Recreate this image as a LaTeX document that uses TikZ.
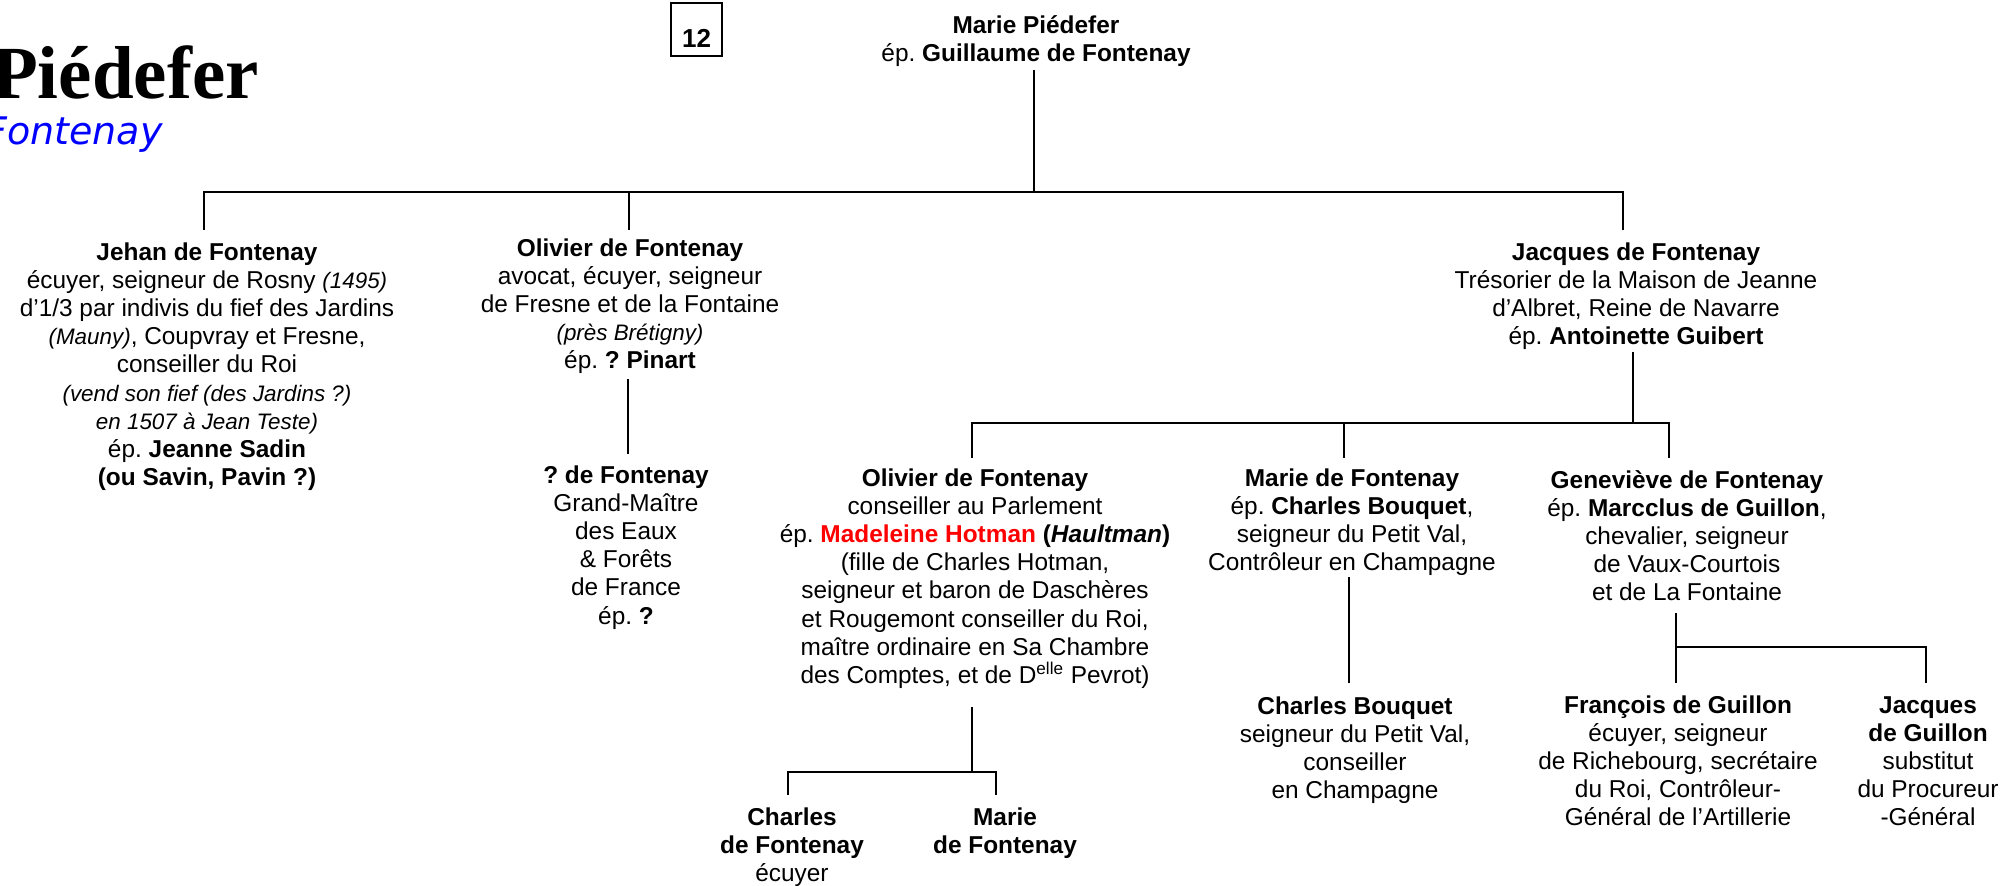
\documentclass[tikz,border=0pt]{standalone}
\usepackage{fontspec}
\setmainfont{Liberation Sans}
\newfontfamily\titleserif{Liberation Serif}
\newfontfamily\titlesans{DejaVu Sans}
\definecolor{hred}{RGB}{255,0,0}
\definecolor{hblue}{RGB}{0,0,255}
\newcommand\mainsz{\fontsize{12.2}{14.1}\selectfont}
\newcommand\itsz[1]{{\fontsize{11.2}{14.1}\selectfont\itshape #1}}
\frenchspacing
\begin{document}
\begin{tikzpicture}[x=0.5pt,y=-0.5pt,
  person/.style={align=center,inner sep=0pt,anchor=north,font=\mainsz},
  link/.style={line width=1.3pt}]
\useasboundingbox (0,0) rectangle (2007,886);
\fill[white] (0,0) rectangle (2007,886);
\clip (0,0) rectangle (2007,886);

% title
\node[anchor=base east,inner sep=0pt,font={\titleserif\bfseries\fontsize{37.5}{40}\selectfont}] (title) at (259,99) {Piédefer};
\node[anchor=base east,inner sep=0pt,text=hblue,font={\titlesans\itshape\fontsize{19}{22}\selectfont}] (subtitle) at (163,145) {Fontenay};
\node[draw,line width=0.7pt,minimum width=25.5pt,minimum height=26.5pt,inner sep=0pt] (numbox) at (696.5,29.5) {};
\node[anchor=base,inner sep=0pt,font={\bfseries\fontsize{13}{15}\selectfont}] (num) at (696.5,48) {12};

% people
\node[person] (top) at (1036,13) {\strut\textbf{Marie Piédefer}\\ép. \textbf{Guillaume de Fontenay}};

\node[person] (jehan) at (207,240) {\strut\textbf{Jehan de Fontenay}\\
écuyer, seigneur de Rosny \itsz{(1495)}\\
d’1/3 par indivis du fief des Jardins\\
\itsz{(Mauny)}, Coupvray et Fresne,\\
conseiller du Roi\\
\itsz{(vend son fief (des Jardins ?)}\\
\itsz{en 1507 à Jean Teste)}\\
ép. \textbf{Jeanne Sadin}\\
\textbf{(ou Savin, Pavin ?)}};

\node[person] (olivier) at (630,236) {\strut\textbf{Olivier de Fontenay}\\
avocat, écuyer, seigneur\\
de Fresne et de la Fontaine\\
\itsz{(près Brétigny)}\\
ép. \textbf{? Pinart}};

\node[person] (qfont) at (626,463) {\strut\textbf{? de Fontenay}\\
Grand-Maître\\des Eaux\\\& Forêts\\de France\\ép. \textbf{?}};

\node[person] (jacques) at (1636,240) {\strut\textbf{Jacques de Fontenay}\\
Trésorier de la Maison de Jeanne\\
d’Albret, Reine de Navarre\\
ép. \textbf{Antoinette Guibert}};

\node[person] (olivier2) at (975,466) {\strut\textbf{Olivier de Fontenay}\\
conseiller au Parlement\\
ép. \textbf{\textcolor{hred}{Madeleine Hotman}} \textbf{(\textit{Haultman})}\\
(fille de Charles Hotman,\\
seigneur et baron de Daschères\\
et Rougemont conseiller du Roi,\\
maître ordinaire en Sa Chambre\\
des Comptes, et de D\textsuperscript{elle} Pevrot)};

\node[person] (marie2) at (1352,466) {\strut\textbf{Marie de Fontenay}\\
ép. \textbf{Charles Bouquet},\\
seigneur du Petit Val,\\
Contrôleur en Champagne};

\node[person] (gen) at (1687,468) {\strut\textbf{Geneviève de Fontenay}\\
ép. \textbf{Marcclus de Guillon},\\
chevalier, seigneur\\
de Vaux-Courtois\\
et de La Fontaine};

\node[person] (cbouquet) at (1355,694) {\strut\textbf{Charles Bouquet}\\
seigneur du Petit Val,\\
conseiller\\
en Champagne};

\node[person] (francois) at (1678,693) {\strut\textbf{François de Guillon}\\
écuyer, seigneur\\
de Richebourg, secrétaire\\
du Roi, Contrôleur-\\
Général de l’Artillerie};

\node[person] (jacquesg) at (1928,693) {\strut\textbf{Jacques}\\
\textbf{de Guillon}\\
substitut\\
du Procureur\\
-Général};

\node[person] (charlesf) at (792,805) {\strut\textbf{Charles}\\\textbf{de Fontenay}\\écuyer};
\node[person] (marief) at (1005,805) {\strut\textbf{Marie}\\\textbf{de Fontenay}};

% connector points
\coordinate (topout) at (1034,70);
\coordinate (bus1) at (1034,192);
\coordinate (b1j) at (204,192);
\coordinate (b1o) at (629,192);
\coordinate (b1q) at (1623,192);
\coordinate (inj) at (204,230);
\coordinate (ino) at (629,230);
\coordinate (inq) at (1623,230);

\coordinate (oout) at (628,379);
\coordinate (qin) at (628,454);

\coordinate (jout) at (1633,352);
\coordinate (bus2) at (1633,423);
\coordinate (b2o) at (972,423);
\coordinate (b2m) at (1344,423);
\coordinate (b2g) at (1669,423);
\coordinate (in2o) at (972,458);
\coordinate (in2m) at (1344,458);
\coordinate (in2g) at (1669,458);

\coordinate (o2out) at (972,707);
\coordinate (bus3) at (972,772);
\coordinate (b3c) at (788,772);
\coordinate (b3m) at (996,772);
\coordinate (in3c) at (788,795);
\coordinate (in3m) at (996,795);

\coordinate (mout) at (1349,577);
\coordinate (cbin) at (1349,683);

\coordinate (gout) at (1676,613);
\coordinate (bus4) at (1676,647);
\coordinate (b4j) at (1926,647);
\coordinate (fin) at (1676,683);
\coordinate (jgin) at (1926,683);

% connectors
\draw[link] (topout) -- (bus1);
\draw[link] (inj) -- (b1j) -- (b1q) -- (inq);
\draw[link] (b1o) -- (ino);
\draw[link] (oout) -- (qin);
\draw[link] (jout) -- (bus2);
\draw[link] (in2o) -- (b2o) -- (b2g) -- (in2g);
\draw[link] (b2m) -- (in2m);
\draw[link] (o2out) -- (bus3);
\draw[link] (in3c) -- (b3c) -- (b3m) -- (in3m);
\draw[link] (mout) -- (cbin);
\draw[link] (gout) -- (fin);
\draw[link] (bus4) -- (b4j) -- (jgin);
\end{tikzpicture}
\end{document}
